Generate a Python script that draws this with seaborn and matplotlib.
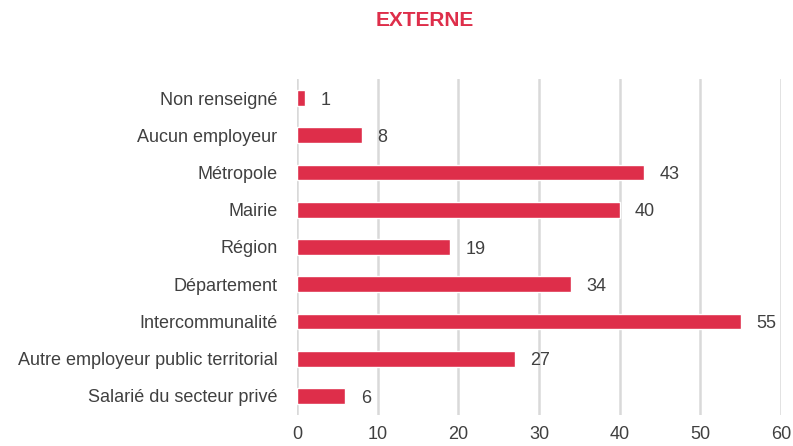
import matplotlib
matplotlib.use("Agg")
import matplotlib.pyplot as plt
import pandas as pd
import seaborn as sns

categories = ["Non renseigné", "Aucun employeur", "Métropole", "Mairie", "Région",
              "Département", "Intercommunalité", "Autre employeur public territorial",
              "Salarié du secteur privé"]
values = [1, 8, 43, 40, 19, 34, 55, 27, 6]
title = "EXTERNE"

red = "#DE2E4A"
txt = "#404040"

sns.set_theme(style="white")
plt.rcParams['font.family'] = ['Liberation Sans', 'DejaVu Sans']

df = pd.DataFrame({"cat": categories, "val": values})

fig = plt.figure(figsize=(7.93, 4.46), dpi=100)
ax = fig.add_axes([0.3745, 0.0704, 0.6105, 0.7516])
sns.barplot(data=df, x="val", y="cat", color=red, width=0.42, saturation=1, ax=ax)

ax.set_xlim(0, 60)
ax.set_xticks(range(0, 61, 10))
ax.xaxis.grid(True, color="#d9d9d9", linewidth=1.8)
ax.set_axisbelow(True)
for s in ax.spines.values():
    s.set_visible(False)
ax.set_xlabel("")
ax.set_ylabel("")
ax.tick_params(axis="both", length=0, labelsize=13, labelcolor=txt)
ax.tick_params(axis="x", pad=8)
ax.tick_params(axis="y", pad=14)

for i, v in enumerate(values):
    ax.annotate(str(v), (v, i), xytext=(11, -1.5), textcoords="offset points",
                va="center", ha="left", fontsize=13, color=txt)

fig.text(425 / 793, 1 - 20 / 446, title, ha="center", va="center", fontsize=15,
         fontweight="bold", color=red)

fig.savefig("out.png", dpi=100)
